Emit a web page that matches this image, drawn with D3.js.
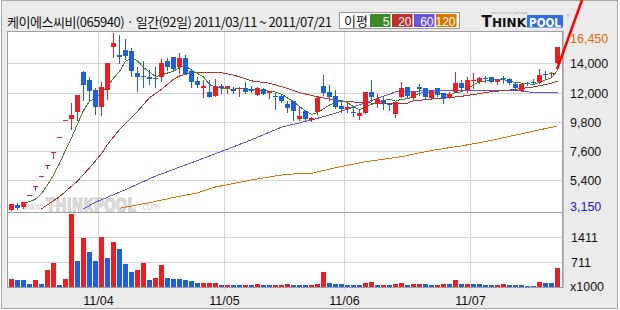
<!DOCTYPE html>
<html><head><meta charset="utf-8">
<script src="https://cdn.jsdelivr.net/npm/d3@7"></script>
<style>body{margin:0;background:#fff}svg{display:block}</style>
</head><body><svg id="c" width="620" height="310"></svg>
<script>
// ---------------- DATA ----------------
const title = "케이에스씨비(065940) · 일간(92일) 2011/03/11 ~ 2011/07/21";
const legendLabel = "이평";
const legendPeriods = ["5", "20", "60", "120"];

const opens = [3150,3560,3360,4300,4945,5690,6540,7520,8650,9950,
  10010,10560,13520,12950,12200,10880,12170,15450,14830,15200,
  15130,13470,13220,13200,13100,13200,14370,14650,13950,14600,
  13600,12870,12340,12070,11770,12490,12340,12270,12270,12340,
  12240,11840,12270,11940,11770,11740,11140,11370,9990,10610,
  9940,10510,12490,12020,11740,10990,10790,10560,10260,10490,
  12040,11110,11470,11190,10410,11690,12420,11620,12420,12320,
  11620,12320,11970,11690,12020,12740,12190,12920,12820,13100,
  13150,12770,13070,13000,12640,12140,12740,12820,12770,13400,
  13400,14250];
const highs = [3620,3680,3760,4300,4945,5690,6540,7520,8650,9950,
  11240,11820,13600,13200,12320,12800,14250,16450,16350,16030,
  15330,13950,14400,13700,13950,14500,14570,14700,14950,14830,
  13750,13200,12950,12950,13020,12640,12490,12440,12340,12820,
  12490,12440,12320,12120,11940,11870,11390,11370,10990,10690,
  10190,11690,13320,12570,12190,11440,11240,10940,10690,12040,
  12950,11870,11690,11190,11320,12820,12440,12070,12640,12320,
  12170,12370,11970,12070,13520,12950,13200,13500,13200,13250,
  13150,12950,13250,13120,12690,12690,12820,13000,13770,13650,
  13570,15450];
const lows = [3150,3250,3340,4300,4700,5690,6300,7050,8650,9950,
  9290,9940,11440,11440,10360,10350,11550,14650,14200,14520,
  13270,12140,12390,12650,12400,12900,13700,13700,13450,13370,
  12440,12440,11690,11690,11770,11940,11940,11940,11740,11990,
  12070,11840,11870,11620,10760,11320,10560,9940,9940,9940,
  9890,10390,11820,11440,10860,10510,10510,10240,10040,10490,
  11370,10940,10790,10690,10190,11690,11690,11440,11820,11620,
  11620,11770,11240,11570,12020,12190,12020,12320,12690,12820,
  12770,12640,12690,12620,12270,12140,12570,12640,12690,13070,
  13200,14250];
const closes = [3590,3330,3740,4300,4945,5690,6540,7520,8650,9950,
  10310,11820,12570,12140,10940,12420,14220,15730,14650,14780,
  13650,13150,13170,13000,13050,14220,13920,13750,14600,13420,
  12820,12590,12490,11690,12490,12320,12490,12140,12340,12070,
  12120,12340,11890,12120,11720,11370,10840,10610,10240,9990,
  10110,11590,11990,11670,10940,10740,10890,10460,10460,12040,
  11690,11520,11240,11040,11320,12320,11770,12040,12290,11690,
  12120,11790,11520,11920,12720,12320,12950,12970,13070,13020,
  12770,12950,13000,12690,12320,12620,12690,12770,13320,13350,
  13450,15450];
// volume, thousands of shares
const volumes = [216,210,197,76,188,76,468,673,48,216,
  2064,748,1392,1000,720,1420,832,1280,1084,636,
  412,468,664,188,244,608,244,216,214,188,
  170,104,106,108,110,48,66,62,48,66,
  48,76,48,46,48,50,76,48,46,44,
  55,76,421,104,76,74,48,46,44,104,
  140,48,50,46,76,104,48,76,78,74,
  48,50,76,74,188,76,78,74,72,48,
  46,48,76,48,46,44,42,40,132,104,
  102,524];

// moving averages (index, value)
const ma5Lead = [null, null, 3650, 3800];
const ma20Idx = [5,8,11,13,15,16,18,20,21,23,25,27,28,30,32,34,35,37,40,43,45,48,51,54,56,59,62,65,66,67,68,70,73,75,77,80,83,87,90,91];
const ma20Val = [3250,4170,5350,6340,7400,8100,9220,10140,10590,11610,12240,13000,13250,13500,13500,13520,13500,13320,12880,12700,12450,12000,11680,11430,11320,11240,11160,11140,11200,11390,11420,11510,11620,11720,11850,12070,12190,12420,12700,12870];
const ma60Idx = [12,14,19,24,29,34,40,45,50,54,59,64,68,74,80,85,87,91];
const ma60Val = [3250,3750,4700,5720,6550,7400,8450,9400,9940,10440,11240,12050,12120,12140,12120,12120,11990,11990];
const ma120Idx = [18,23,28,31,34,40,45,48,50,54,59,65,70,75,79,84,91];
const ma120Val = [3300,3720,4200,4450,4900,5430,5800,5920,5930,6350,6800,7180,7650,7990,8310,8800,9490];

const monthStartIdx = [15, 36, 56, 77];
const monthLabels = ["11/04", "11/05", "11/06", "11/07"];
const priceMin = 3150, priceMax = 16450;
const priceMinLabel = "3,150", priceMaxLabel = "16,450";
const priceTickValues = [14200, 12000, 9800, 7600, 5400];
const priceTickLabels = ["14,000", "12,000", "9,800", "7,600", "5,400"];
const volMax = 2117;
const volTickValues = [1411, 711];
const volTickLabels = ["1411", "711"];
const volUnitLabel = "x1000";

// ---------------- LAYOUT ----------------
const L = 8, R = 562, T = 31, PB = 212, VB = 287;
const RED = "#ee1d23", BLUE = "#1e5fdc";
const maColors = ["#3d8b28", "#c0302c", "#6655dd", "#dc7500"];
const NUM_FONT = "'Liberation Sans', Arial, sans-serif";
const KR_FONT = "'Noto Sans CJK KR', 'Noto Sans', sans-serif";

const svg = d3.select("#c");
const idx = d3.range(closes.length);
const xb = d3.scaleBand().domain(idx).range([L, L + 6 * idx.length]).padding(0);
const cx = i => xb(i) + 3;
const yP = d3.scaleLinear().domain([priceMin, priceMax]).range([210.25, 33.4]);
const yV = d3.scaleLinear().domain([0, volMax]).range([VB, PB]);

// background & outer frame
svg.append("rect").attr("x", 1.5).attr("y", 0.5).attr("width", 616).attr("height", 308)
  .attr("fill", "#ebebeb").attr("stroke", "#a8a8a8");

// plot background
svg.append("rect").attr("x", L).attr("y", T).attr("width", R - L).attr("height", VB - T).attr("fill", "#fff");

const defs = svg.append("defs");
defs.append("clipPath").attr("id", "pc").append("rect")
  .attr("x", L).attr("y", T + 1).attr("width", R - L).attr("height", PB - T - 1);

// gridlines
const grid = svg.append("g").attr("stroke", "#d6d6d6").attr("stroke-width", 1);
priceTickValues.forEach(v => {
  const y = Math.round(yP(v)) + 0.5;
  grid.append("line").attr("x1", L).attr("x2", R).attr("y1", y).attr("y2", y);
});
volTickValues.forEach(v => {
  const y = Math.round(yV(v)) + 0.5;
  grid.append("line").attr("x1", L).attr("x2", R).attr("y1", y).attr("y2", y);
});
monthStartIdx.forEach(i => {
  const x = xb(i) + 0.5;
  grid.append("line").attr("x1", x).attr("x2", x).attr("y1", T).attr("y2", VB + 4);
});

// watermark: three separate pieces, narrowed with a horizontal scale
const wm = svg.append("g").attr("clip-path", "url(#pc)").attr("font-family", "'DejaVu Sans', sans-serif");
wm.append("text").attr("transform", "translate(23,210) scale(0.74,1)").text("www.")
  .attr("font-size", 10).attr("fill", "#cfcfcf");
wm.append("text").attr("transform", "translate(46,211.5) scale(0.72,1)").text("THINKPOOL")
  .attr("font-size", 19).attr("font-weight", "bold")
  .attr("fill", "#dedede").attr("stroke", "#c8c8c8").attr("stroke-width", 0.8);
wm.append("text").attr("transform", "translate(140,210) scale(0.8,1)").text(".com")
  .attr("font-size", 10).attr("fill", "#cfcfcf");

// moving averages
const maLayer = svg.append("g").attr("clip-path", "url(#pc)").attr("fill", "none")
  .attr("stroke-width", 1).attr("shape-rendering", "crispEdges");
const line = d3.line().defined(d => d[1] != null).x(d => cx(d[0]) + 0.5).y(d => yP(d[1]));
const ma5 = idx.map(i => [i, i >= 4 ? d3.mean(closes.slice(i - 4, i + 1)) : ma5Lead[i]]);
const series = [
  ma5,
  ma20Idx.map((k, j) => [k, ma20Val[j]]),
  ma60Idx.map((k, j) => [k, ma60Val[j]]),
  ma120Idx.map((k, j) => [k, ma120Val[j]])
];
[3, 2, 1, 0].forEach(s => {
  maLayer.append("path").attr("d", line(series[s])).attr("stroke", maColors[s]);
});

// candles
const cg = svg.append("g").attr("clip-path", "url(#pc)");
idx.forEach(i => {
  const up = closes[i] >= opens[i];
  const col = up ? RED : BLUE;
  const x = cx(i);
  const yh = Math.round(yP(highs[i])), yl = Math.round(yP(lows[i]));
  cg.append("line").attr("x1", x + 0.5).attr("x2", x + 0.5).attr("y1", yh).attr("y2", yl + 1).attr("stroke", col);
  const yt = Math.round(yP(Math.max(opens[i], closes[i])));
  const ybm = Math.round(yP(Math.min(opens[i], closes[i])));
  cg.append("rect").attr("x", x - 2).attr("y", yt).attr("width", 5).attr("height", Math.max(1, ybm - yt)).attr("fill", col);
});

// volume bars
const vg = svg.append("g");
idx.forEach(i => {
  const up = i === 0 || volumes[i] > volumes[i - 1];
  const y = Math.round(yV(volumes[i]));
  vg.append("rect").attr("x", cx(i) - 2).attr("y", y).attr("width", 5).attr("height", Math.max(1, VB - y))
    .attr("fill", up ? RED : BLUE);
});

// frame lines
const fr = svg.append("g").attr("stroke", "#a0a0a0").attr("fill", "none");
fr.append("rect").attr("x", L - 0.5).attr("y", T + 0.5).attr("width", R - L + 1).attr("height", VB - T);
fr.append("line").attr("x1", L).attr("x2", R).attr("y1", PB + 0.5).attr("y2", PB + 0.5);
fr.append("line").attr("x1", R + 1.5).attr("x2", R + 1.5).attr("y1", T).attr("y2", VB + 1).attr("stroke", "#b8b8b8");

// right axis labels
const ax = svg.append("g").attr("font-family", NUM_FONT).attr("font-size", 12.5);
priceTickValues.forEach((v, k) => {
  ax.append("text").attr("x", 570).attr("y", Math.round(yP(v)) + 0.5).attr("dy", "0.36em")
    .text(priceTickLabels[k]).attr("fill", "#111");
});
ax.append("text").attr("x", 570).attr("y", yP(priceMax) + 5).attr("dy", "0.36em").text(priceMaxLabel).attr("fill", "#d96d00");
ax.append("text").attr("x", 570).attr("y", yP(priceMin) - 3.5).attr("dy", "0.36em").text(priceMinLabel).attr("fill", "#1a1ad2");
volTickValues.forEach((v, k) => {
  ax.append("text").attr("x", 571).attr("y", Math.round(yV(v)) + 0.5).attr("dy", "0.36em").text(volTickLabels[k]).attr("fill", "#111");
});
ax.append("text").attr("x", 570).attr("y", yV(0) - 1).attr("dy", "0.36em").text(volUnitLabel).attr("fill", "#111");

// x labels
monthStartIdx.forEach((i, k) => {
  ax.append("text").attr("x", xb(i) + 0.5).attr("y", 305).attr("text-anchor", "middle").text(monthLabels[k]).attr("fill", "#111");
});

// title
svg.append("text").attr("x", 7).attr("y", 27).text(title)
  .attr("font-family", KR_FONT).attr("font-size", 13).attr("fill", "#111")
  .attr("textLength", 325).attr("lengthAdjust", "spacing");

// legend
const lg = svg.append("g");
lg.append("rect").attr("x", 339.5).attr("y", 12.5).attr("width", 120).attr("height", 16).attr("fill", "#fff").attr("stroke", "#9a9a9a");
lg.append("text").attr("x", 344).attr("y", 26).text(legendLabel).attr("font-family", KR_FONT).attr("font-size", 13).attr("fill", "#111");
legendPeriods.forEach((p, k) => {
  const x0 = 370 + k * 22;
  lg.append("rect").attr("x", x0).attr("y", 14).attr("width", 20.5).attr("height", 13).attr("fill", maColors[k]);
  lg.append("text").attr("x", x0 + 19.5).attr("y", 25.5).attr("text-anchor", "end").text(p)
    .attr("font-family", NUM_FONT).attr("font-size", 12).attr("fill", "#fff");
});

// logo
const lo = svg.append("g").attr("font-family", "'DejaVu Sans', sans-serif").attr("font-weight", "bold");
lo.append("text").attr("x", 491).attr("y", 14).text("smart stock package").attr("font-size", 3.5).attr("font-weight", "normal").attr("fill", "#aaa");
lo.append("text").attr("x", 481.5).attr("y", 27).text("T").attr("font-size", 15).attr("fill", "#111");
lo.append("text").attr("x", 492).attr("y", 27).text("HINK").attr("font-size", 11.5).attr("fill", "#111")
  .attr("textLength", 34).attr("lengthAdjust", "spacingAndGlyphs");
lo.append("rect").attr("x", 527).attr("y", 15).attr("width", 36).attr("height", 12.5).attr("fill", "#2f6ee0");
lo.append("text").attr("x", 529).attr("y", 26.5).text("POOL").attr("font-size", 12.5).attr("fill", "#fff")
  .attr("textLength", 32).attr("lengthAdjust", "spacingAndGlyphs");
lo.append("text").attr("x", 566).attr("y", 17).text("®").attr("font-size", 4).attr("font-weight", "normal").attr("fill", "#999");

// upward arrow stroke at the last candle
const li = idx.length - 1;
svg.append("line").attr("x1", cx(li)).attr("y1", yP(13750)).attr("x2", cx(li) + 25).attr("y2", 0)
  .attr("stroke", "#ff0000").attr("stroke-width", 2.5);
</script></body></html>
